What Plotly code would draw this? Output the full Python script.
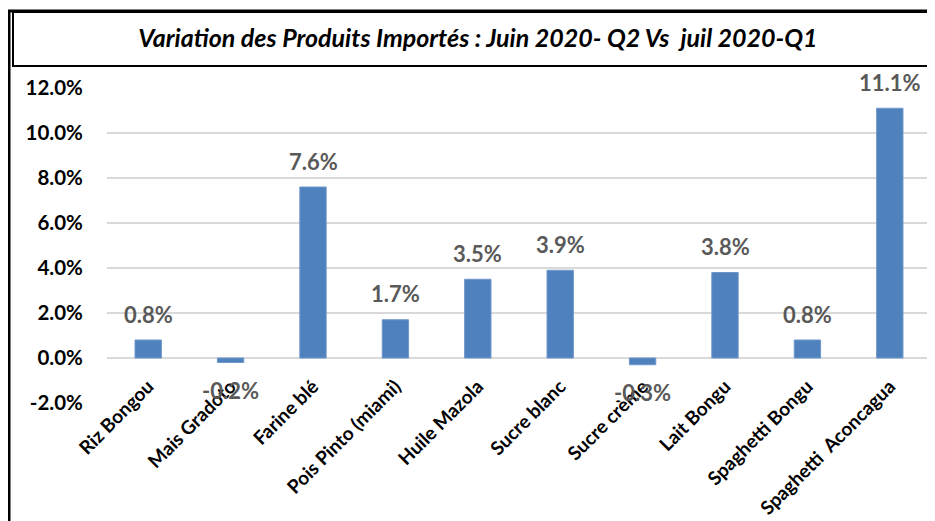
import plotly.graph_objects as go

categories = ["Riz Bongou", "Mais Gradoto", "Farine blé", "Pois Pinto (miami)", "Huile Mazola",
              "Sucre blanc", "Sucre crème", "Lait Bongu", "Spaghetti Bongu", "Spaghetti  Aconcagua"]
values = [0.8, -0.2, 7.6, 1.7, 3.5, 3.9, -0.3, 3.8, 0.8, 11.1]
y_ticks = [-2, 0, 2, 4, 6, 8, 10, 12]
title_text = "Variation des Produits Importés : Juin 2020- Q2 Vs  juil 2020-Q1"

# page body has an 8px margin; figure sized to fill the rest of the 935x521 window
OFF = 8
W, H = 935 - OFF, 521 - OFF
# plot area in window pixels: x 107..931, y 88..403
PX0, PX1, PY0, PY1 = 107, 931, 88, 403
ML, MR, MT, MB = PX0 - OFF, (W + OFF) - PX1, PY0 - OFF, (H + OFF) - PY1
Y_MIN, Y_MAX = -2, 12
FONT = "Lato"

def px_x(px):
    return (px - PX0) / (PX1 - PX0)

def px_y(py):
    return (PY1 - py) / (PY1 - PY0)

fig = go.Figure()
fig.add_trace(go.Bar(
    x=categories, y=values,
    marker=dict(color="#4F81BD", line=dict(color="#6F97CC", width=1)),
    width=0.32,
    hoverinfo="skip",
))

for c, v in zip(categories, values):
    fig.add_annotation(
        x=c, y=v, text=f"<b>{v:.1f}%</b>", showarrow=False,
        yshift=26 if v >= 0 else -28, yanchor="middle",
        font=dict(family=FONT, size=22, color="#595959"),
    )

fig.add_shape(type="line", xref="paper", yref="paper",
              x0=px_x(9), x1=px_x(9), y0=px_y(10), y1=px_y(540), line=dict(color="black", width=3))
fig.add_shape(type="line", xref="paper", yref="paper",
              x0=px_x(8), x1=px_x(960), y0=px_y(11), y1=px_y(11), line=dict(color="black", width=3))
fig.add_shape(type="rect", xref="paper", yref="paper",
              x0=px_x(13), x1=px_x(960), y0=px_y(12), y1=px_y(66), line=dict(color="black", width=2))

fig.update_layout(
    width=W, height=H,
    margin=dict(l=ML, r=MR, t=MT, b=MB, autoexpand=False),
    paper_bgcolor="white", plot_bgcolor="white",
    showlegend=False,
    title=dict(text=f"<b><i>{title_text}</i></b>", x=(478 - OFF) / W,
               xanchor="center", y=1 - (38 - OFF) / H, yanchor="middle",
               font=dict(family=FONT, size=25, color="black")),
    font=dict(family=FONT, color="black"),
    bargap=0.68,
)
fig.update_xaxes(
    anchor="free", position=(0 - Y_MIN) / (Y_MAX - Y_MIN),
    tickangle=-45, tickfont=dict(family=FONT, size=19, color="black", weight="bold"),
    ticks="outside", ticklen=9, tickcolor="rgba(0,0,0,0)",
    showline=False, showgrid=False,
)
fig.update_yaxes(
    range=[Y_MIN, Y_MAX], tickvals=y_ticks,
    ticktext=[f"{t:.1f}%" for t in y_ticks],
    tickfont=dict(family=FONT, size=20.5, color="black", weight="bold"),
    ticks="outside", ticklen=19, tickcolor="rgba(0,0,0,0)",
    showgrid=True, gridcolor="#D9D9D9", gridwidth=1.5,
    zeroline=True, zerolinecolor="#D9D9D9", zerolinewidth=1.5,
    showline=False,
)

fig.write_html("out.html")
